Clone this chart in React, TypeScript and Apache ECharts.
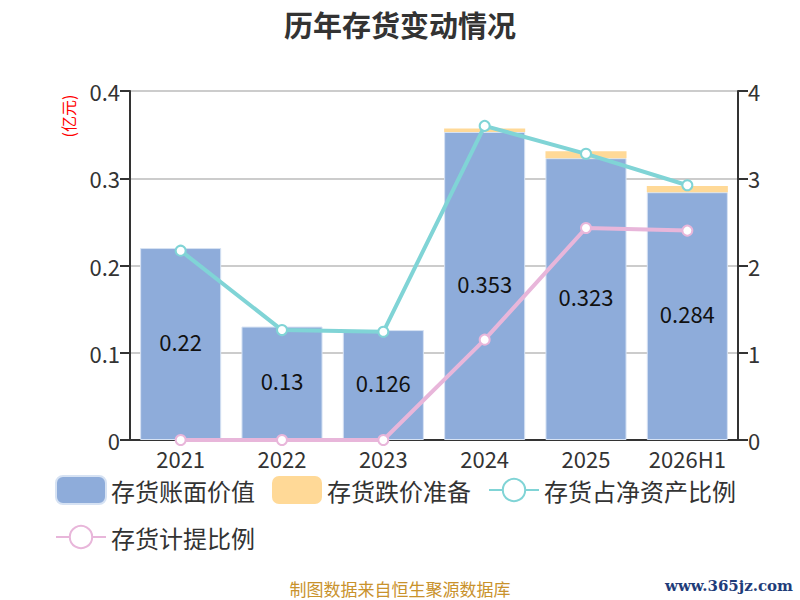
import React, { useEffect, useRef } from "react";
import * as echarts from "echarts";

const categories = ["2021", "2022", "2023", "2024", "2025", "2026H1"];
const bookValue = [0.22, 0.13, 0.126, 0.353, 0.323, 0.284];
const provision = [0, 0, 0, 0.004, 0.008, 0.007];
const ratioNetAssets = [2.17, 1.26, 1.24, 3.6, 3.28, 2.92];
const provisionRatio = [0, 0, 0, 1.15, 2.43, 2.4];

const FONT = "'Noto Sans CJK SC', 'Noto Sans', sans-serif";

export default function App() {
  const ref = useRef<HTMLDivElement>(null);
  useEffect(() => {
    if (!ref.current) return;
    const chart = echarts.init(ref.current, undefined, { renderer: "svg" });
    chart.setOption({
      animation: false,
      backgroundColor: "#fff",
      textStyle: { fontFamily: FONT },
      title: {
        text: "历年存货变动情况",
        left: "center",
        top: 4,
        textStyle: { fontSize: 29, fontWeight: "bold", color: "#333", fontFamily: FONT },
      },
      legend: {
        left: 50,
        top: 470,
        width: 720,
        itemWidth: 50,
        itemHeight: 28,
        itemGap: 17,
        textStyle: { fontSize: 24, lineHeight: 28, color: "#333", fontFamily: FONT },
        data: ["存货账面价值", "存货跌价准备", "存货占净资产比例", "存货计提比例"],
      },
      grid: { left: 130, right: 62, top: 91, bottom: 160 },
      xAxis: {
        type: "category",
        data: categories,
        axisLine: { lineStyle: { color: "#333", width: 2 } },
        axisTick: { length: 8, lineStyle: { color: "#333", width: 2 } },
        axisLabel: { fontSize: 22, lineHeight: 22, color: "#333", margin: 7, interval: 0 },
      },
      yAxis: [
        {
          type: "value",
          min: 0,
          max: 0.4,
          interval: 0.1,
          axisLine: { show: true, lineStyle: { color: "#333", width: 2 } },
          axisTick: { show: true, length: 10, lineStyle: { color: "#333", width: 2 } },
          axisLabel: { fontSize: 22, color: "#333", margin: 10 },
          splitLine: { lineStyle: { color: "#ccc", width: 2 } },
        },
        {
          type: "value",
          min: 0,
          max: 4,
          interval: 1,
          axisLine: { show: true, lineStyle: { color: "#333", width: 2 } },
          axisTick: { show: true, length: 10, lineStyle: { color: "#333", width: 2 } },
          axisLabel: { fontSize: 22, color: "#333", margin: 10 },
          splitLine: { show: false },
        },
      ],
      series: [
        {
          name: "存货账面价值",
          type: "bar",
          stack: "inv",
          data: bookValue,
          barCategoryGap: "20%",
          itemStyle: { color: "#8eacda", borderColor: "#d6e2f3", borderWidth: 1 },
          label: { show: true, position: "inside", fontSize: 22, color: "#111", offset: [0, -3] },
        },
        {
          name: "存货跌价准备",
          type: "bar",
          stack: "inv",
          data: provision,
          itemStyle: { color: "#ffd997" },
        },
        {
          name: "存货占净资产比例",
          type: "line",
          yAxisIndex: 1,
          data: ratioNetAssets,
          symbol: "emptyCircle",
          symbolSize: 10,
          lineStyle: { color: "#80d4d6", width: 4 },
          itemStyle: { color: "#80d4d6", borderWidth: 2 },
        },
        {
          name: "存货计提比例",
          type: "line",
          yAxisIndex: 1,
          data: provisionRatio,
          symbol: "emptyCircle",
          symbolSize: 10,
          lineStyle: { color: "#e8b6da", width: 4 },
          itemStyle: { color: "#e8b6da", borderWidth: 2 },
        },
      ],
      graphic: [
        {
          type: "text",
          x: 68,
          y: 116,
          rotation: Math.PI / 2,
          style: {
            text: "(亿元)",
            fill: "#ff0000",
            fontSize: 16,
            fontFamily: FONT,
            align: "center",
            verticalAlign: "middle",
          },
        },
        {
          type: "text",
          x: 400,
          y: 588,
          style: {
            text: "制图数据来自恒生聚源数据库",
            fill: "#c9922c",
            fontSize: 17,
            fontFamily: FONT,
            align: "center",
            verticalAlign: "middle",
          },
        },
        {
          type: "text",
          x: 729,
          y: 586,
          style: {
            text: "www.365jz.com",
            fill: "#1f3d7a",
            fontSize: 15,
            fontWeight: "bold",
            fontFamily: "'DejaVu Serif', serif",
            align: "center",
            verticalAlign: "middle",
          },
        },
      ],
    });
    return () => chart.dispose();
  }, []);
  return (
    <div
      ref={ref}
      style={{ position: "fixed", left: 0, top: 0, width: 800, height: 600 }}
    />
  );
}
